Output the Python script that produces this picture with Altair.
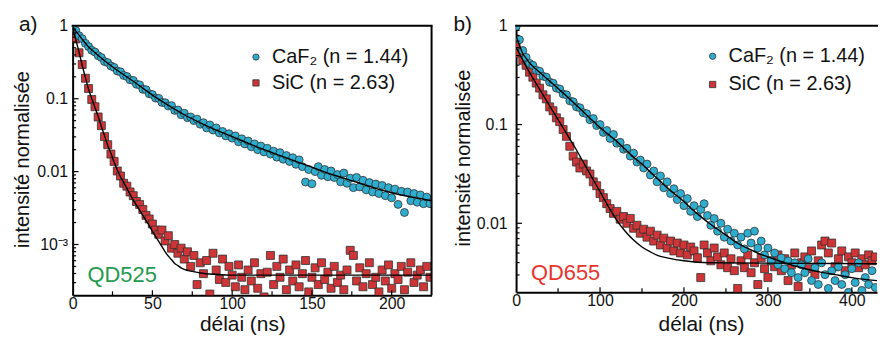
import altair as alt
import pandas as pd

FONT = "Liberation Sans"

SERIES = ["CaF₂ (n = 1.44)", "SiC (n = 2.63)"]
COLORS = ["#2eadcf", "#cf3436"]
SHAPES = ["circle", "square"]
TAGS = ["a)", "b)"]
QD_NAMES = ["QD525", "QD655"]
QD_COLORS = ["#1f9a4f", "#e8342e"]
X_TITLE = "délai (ns)"
Y_TITLE = "intensité normalisée"

# ---------------- panel a (QD525) ----------------
T_A = list(range(0, 226, 2))
CAF2_A = [
    0.98, 0.863, 0.733, 0.668, 0.575, 0.519, 0.462, 0.437, 0.389, 0.367,
    0.324, 0.313, 0.282, 0.269, 0.240, 0.234, 0.209, 0.202, 0.182, 0.178,
    0.158, 0.155, 0.135, 0.133, 0.117, 0.114, 0.102, 0.101, 0.0891, 0.0881,
    0.0794, 0.0804, 0.0692, 0.0700, 0.0603, 0.0631, 0.0550, 0.0562, 0.0501, 0.0525,
    0.0447, 0.0468, 0.0398, 0.0437, 0.0372, 0.0398, 0.0339, 0.0355, 0.0309, 0.0331,
    0.0288, 0.0309, 0.0257, 0.0282, 0.0240, 0.0263, 0.0219, 0.0240, 0.0200, 0.0224,
    0.0186, 0.0209, 0.0174, 0.0191, 0.0158, 0.0182, 0.0148, 0.0166, 0.0138, 0.0155,
    0.0126, 0.0145, 0.0117, 0.0072, 0.0107, 0.0068, 0.0100, 0.0117, 0.00891, 0.0107,
    0.00851, 0.0102, 0.00830, 0.00912, 0.00724, 0.00955, 0.00692, 0.00813, 0.00603, 0.00832,
    0.00617, 0.00759, 0.00562, 0.00708, 0.00525, 0.00676, 0.00501, 0.00646, 0.00468, 0.00603,
    0.00437, 0.00575, 0.00355, 0.00537, 0.00275, 0.00525, 0.00398, 0.00501, 0.00380, 0.00479,
    0.00363, 0.00447, 0.00363,
]
SIC_A = [
    0.891, 0.661, 0.427, 0.295, 0.191, 0.138, 0.0977, 0.0776, 0.0562, 0.0427,
    0.0302, 0.0234, 0.0174, 0.0138, 0.0102, 0.00871, 0.00692, 0.00631, 0.00525, 0.00468,
    0.00389, 0.00355, 0.00302, 0.00251, 0.00224, 0.00191, 0.00158, 0.00138, 0.00158, 0.00112,
    0.00132, 0.000891, 0.00100, 0.000759, 0.000891, 0.000631, 0.000794, 0.000501, 0.000708, 0.000282,
    0.000562, 0.000398, 0.000603, 0.000209, 0.000759, 0.000447, 0.000331, 0.000631, 0.000302, 0.000501,
    0.00038, 0.000263, 0.000525, 0.000355, 0.00024, 0.000447, 0.000316, 0.000562, 0.000251, 0.000398,
    0.000191, 0.000417, 0.000708, 0.000282, 0.000501, 0.000355, 0.000631, 0.00024, 0.000447, 0.000316,
    0.000525, 0.000263, 0.000398, 0.000603, 0.000224, 0.000355, 0.000479, 0.000282, 0.000562, 0.000331,
    0.000417, 0.000251, 0.000501, 0.000302, 0.00038, 0.00024, 0.000447, 0.000832, 0.000708, 0.000316,
    0.000479, 0.000263, 0.000398, 0.000562, 0.000282, 0.000355, 0.000224, 0.000447, 0.000316, 0.000525,
    0.000251, 0.000398, 0.000331, 0.000501, 0.00024, 0.000417, 0.000562, 0.000302, 0.00038, 0.000447,
    0.000263, 0.000501, 0.000355,
]
FIT_T_A_CAF2 = [0, 5, 10, 15, 20, 30, 40, 50, 60, 70, 80, 90, 100, 110, 120, 130,
                140, 150, 160, 170, 180, 190, 200, 210, 220, 225]
FIT_A_CAF2 = [0.955, 0.700, 0.513, 0.412, 0.331, 0.229, 0.162, 0.112, 0.0813, 0.0603,
              0.0468, 0.0372, 0.0302, 0.0245, 0.020, 0.0166, 0.0138, 0.0115, 0.00955,
              0.00813, 0.00692, 0.00589, 0.00513, 0.00457, 0.00417, 0.00398]
FIT_T_A_SIC = [0, 2, 4, 6, 8, 10, 12, 14, 16, 18, 20, 22, 24, 26, 28, 30, 32, 34, 36,
               38, 40, 42, 44, 46, 48, 50, 52, 54, 56, 58, 60, 62, 64, 66, 68, 70,
               75, 80, 90, 100, 225]
FIT_A_SIC = [0.933, 0.646, 0.437, 0.288, 0.195, 0.135, 0.100, 0.0759, 0.0575, 0.0417,
             0.0309, 0.0229, 0.0178, 0.0135, 0.0105, 0.00851, 0.00708, 0.00589, 0.0049,
             0.00407, 0.00347, 0.00295, 0.00251, 0.00214, 0.00182, 0.00151, 0.00129,
             0.0011, 0.000933, 0.000794, 0.000692, 0.000617, 0.00055, 0.000513, 0.000479,
             0.000457, 0.000427, 0.000407, 0.000389, 0.00038, 0.00038]

# ---------------- panel b (QD655) ----------------
T_B = list(range(0, 429, 4))
CAF2_B = [
    0.977, 0.724, 0.562, 0.479, 0.417, 0.398, 0.355, 0.347, 0.309, 0.302,
    0.269, 0.263, 0.234, 0.229, 0.204, 0.200, 0.174, 0.170, 0.151, 0.148,
    0.132, 0.129, 0.112, 0.115, 0.0977, 0.100, 0.0832, 0.0871, 0.0724, 0.0794,
    0.0646, 0.0661, 0.0562, 0.0575, 0.0479, 0.0513, 0.0417, 0.0437, 0.0363, 0.0398,
    0.0309, 0.0339, 0.0263, 0.0302, 0.0229, 0.0263, 0.020, 0.0224, 0.0174, 0.020,
    0.0151, 0.0178, 0.0132, 0.0151, 0.0117, 0.0138, 0.0158, 0.0120, 0.00955, 0.0112,
    0.00832, 0.010, 0.00724, 0.00871, 0.00661, 0.00794, 0.00603, 0.00724, 0.0055, 0.00794,
    0.00631, 0.00832, 0.00562, 0.00661, 0.00479, 0.00562, 0.00417, 0.00501, 0.0038, 0.00447,
    0.00347, 0.00417, 0.00316, 0.00398, 0.00282, 0.0038, 0.00316, 0.00437, 0.00263, 0.00355,
    0.0024, 0.00398, 0.00302, 0.00219, 0.00331, 0.00263, 0.00363, 0.0024, 0.00302, 0.002,
    0.00347, 0.00251, 0.00398, 0.00209, 0.00282, 0.0024, 0.00331, 0.00224,
]
SIC_B = [
    0.631, 0.525, 0.447, 0.398, 0.339, 0.302, 0.263, 0.234, 0.200, 0.182,
    0.151, 0.138, 0.117, 0.107, 0.0891, 0.0759, 0.0603, 0.0479, 0.0417, 0.0363,
    0.0398, 0.0339, 0.0316, 0.0263, 0.024, 0.020, 0.0182, 0.0158, 0.0141, 0.0126,
    0.0132, 0.011, 0.0117, 0.010, 0.0112, 0.00891, 0.00955, 0.00794, 0.00871, 0.00724,
    0.00832, 0.00661, 0.00759, 0.00603, 0.00708, 0.00562, 0.00661, 0.00525, 0.00631, 0.00501,
    0.00603, 0.00479, 0.00575, 0.00525, 0.00447, 0.00282, 0.00603, 0.00501, 0.00417, 0.00562,
    0.00457, 0.0038, 0.00501, 0.00355, 0.00437, 0.00331, 0.00219, 0.00417, 0.00355, 0.00479,
    0.00316, 0.00398, 0.0024, 0.00447, 0.00347, 0.00282, 0.00417, 0.00363, 0.00479, 0.00331,
    0.00437, 0.00263, 0.0038, 0.00501, 0.00229, 0.00398, 0.00457, 0.00347, 0.00525, 0.00302,
    0.00417, 0.00603, 0.00661, 0.00501, 0.00631, 0.00363, 0.00437, 0.00525, 0.00331, 0.00457,
    0.00398, 0.00501, 0.00355, 0.00437, 0.0038, 0.00479, 0.00417, 0.00457,
]
FIT_T_B_CAF2 = [0, 4, 8, 12, 16, 20, 28, 36, 44, 52, 60, 70, 80, 90, 100, 110, 120, 130,
                140, 150, 160, 170, 180, 190, 200, 210, 220, 230, 240, 250, 260, 270, 280,
                290, 300, 320, 340, 360, 380, 400, 430]
FIT_B_CAF2 = [0.794, 0.631, 0.525, 0.468, 0.422, 0.389, 0.339, 0.295, 0.257, 0.224, 0.195,
              0.162, 0.135, 0.112, 0.0933, 0.0794, 0.0676, 0.0562, 0.0468, 0.0398, 0.0331,
              0.0275, 0.0229, 0.0195, 0.0166, 0.0138, 0.0117, 0.010, 0.00871, 0.00759,
              0.00661, 0.00589, 0.00537, 0.0049, 0.00457, 0.00398, 0.00355, 0.00324,
              0.00302, 0.00282, 0.00263]
FIT_T_B_SIC = [0, 10, 20, 30, 40, 50, 60, 70, 80, 90, 100, 110, 120, 130, 140, 150, 160,
               170, 180, 200, 230, 430]
FIT_B_SIC = [0.603, 0.417, 0.295, 0.214, 0.155, 0.112, 0.0813, 0.0589, 0.0417, 0.0295,
             0.0209, 0.0148, 0.0107, 0.00832, 0.00676, 0.00575, 0.00513, 0.00468, 0.00447,
             0.00417, 0.00398, 0.00389]

X_LABELS_A = [0, 50, 100, 150, 200]
X_MINOR_A = [25, 75, 125, 175]
X_LABELS_B = [0, 100, 200, 300, 400]
X_MINOR_B = [50, 150, 250, 350]
Y_TICKS_A = [1, 0.1, 0.01, 0.001]
Y_TICK_TEXT_A = ["1", "0.1", "0.01", "10⁻³"]
Y_TICKS_B = [1, 0.1, 0.01]
Y_TICK_TEXT_B = ["1", "0.1", "0.01"]


def label_expr(vals, texts):
    expr = "''"
    for v, s in reversed(list(zip(vals, texts))):
        expr = f"abs(datum.value - {v}) < {v / 1000} ? '{s}' : {expr}"
    return expr


def minor_log(ymin):
    out = []
    for e in (-4, -3, -2, -1):
        for m in range(2, 10):
            v = m * 10 ** e
            if v > ymin * 1.05:
                out.append(v)
    return out


def panel(i, t, caf, sic, ftc, fc, fts, fs, x_max, y_min, w, h,
          x_labels, x_minor, y_ticks, y_text, y_lab_pad,
          ytx, yty, xtx, xty, lx, ly, lrow, tag_x, qd_y, right_frame):
    pts = pd.DataFrame({
        "t": t + t,
        "I": caf + sic,
        "serie": [SERIES[0]] * len(t) + [SERIES[1]] * len(t),
    })
    fits = pd.DataFrame({
        "t": ftc + fts,
        "I": fc + fs,
        "serie": [SERIES[0]] * len(ftc) + [SERIES[1]] * len(fts),
    })
    xs = alt.Scale(domain=[0, x_max], nice=False, zero=False)
    ys = alt.Scale(type="log", domain=[y_min, 1], nice=False)

    xaxis = alt.Axis(values=x_labels, title=X_TITLE, ticks=False, grid=False,
                     labelPadding=0, labelFlush=False, labelOverlap=False,
                     labelFontSize=16, labelFont=FONT, labelColor="#111",
                     titleFontSize=21, titleFont=FONT, titleFontWeight="normal",
                     titleColor="#111", titleX=xtx, titleY=xty, titleAlign="center",
                     titleBaseline="alphabetic",
                     domainColor="black", domainWidth=2)
    yaxis = alt.Axis(values=y_ticks, labelExpr=label_expr(y_ticks, y_text),
                     title=Y_TITLE, ticks=False, grid=False, labelPadding=y_lab_pad,
                     labelFlush=False, labelOverlap=False,
                     labelFontSize=16, labelFont=FONT, labelColor="#111",
                     titleFontSize=20, titleFont=FONT, titleFontWeight="normal",
                     titleColor="#111", titleX=ytx, titleY=yty, titleAngle=270,
                     titleAlign="center", titleBaseline="alphabetic",
                     domainColor="black", domainWidth=2)
    legend = alt.Legend(orient="none", legendX=lx, legendY=ly, title=None,
                        labelFontSize=20, labelFont=FONT, labelColor="#111",
                        symbolSize=40, symbolStrokeColor="#333", symbolStrokeWidth=0.8,
                        labelOffset=6, rowPadding=lrow, padding=0)
    color = alt.Color("serie:N", scale=alt.Scale(domain=SERIES, range=COLORS), legend=legend)
    shape = alt.Shape("serie:N", scale=alt.Scale(domain=SERIES, range=SHAPES), legend=legend)

    X = lambda f: alt.X(f, scale=xs, axis=xaxis)
    Y = lambda f: alt.Y(f, scale=ys, axis=yaxis)

    base = alt.Chart(pts)
    layers = []
    for s in (SERIES[1], SERIES[0]):
        layers.append(
            base.transform_filter(alt.datum.serie == s)
            .mark_point(filled=True, size=64, opacity=1, stroke="#333",
                        strokeWidth=0.8, clip=True)
            .encode(x=X("t:Q"), y=Y("I:Q"), color=color, shape=shape)
        )
    layers.append(
        alt.Chart(fits).mark_line(color="black", strokeWidth=1.4,
                                  interpolate="monotone", clip=True)
        .encode(x=X("t:Q"), y=Y("I:Q"), detail="serie:N")
    )

    def ytick(vals, length):
        return alt.Chart(pd.DataFrame({"I": vals})).mark_rule(
            color="black", strokeWidth=1.2).encode(
            y=Y("I:Q"), x=alt.value(0), x2=alt.value(length))

    def xtick(vals, length):
        return alt.Chart(pd.DataFrame({"t": vals})).mark_rule(
            color="black", strokeWidth=1.2).encode(
            x=X("t:Q"), y=alt.value(h), y2=alt.value(h - length))

    layers.append(ytick([v for v in y_ticks if v < 1], 6))
    layers.append(ytick(minor_log(y_min), 3.5))
    layers.append(xtick([v for v in x_labels if v > 0], 5))
    layers.append(xtick(x_minor, 4))

    one = pd.DataFrame({"k": [0]})
    layers.append(alt.Chart(one).mark_rule(color="black", strokeWidth=2).encode(
        x=alt.value(-1), x2=alt.value(w + 1), y=alt.value(0)))
    if right_frame:
        layers.append(alt.Chart(one).mark_rule(color="black", strokeWidth=2).encode(
            x=alt.value(w), y=alt.value(0), y2=alt.value(h)))
    layers.append(alt.Chart(one).mark_text(
        text=QD_NAMES[i], fontSize=22, font=FONT, color=QD_COLORS[i],
        align="left", baseline="alphabetic").encode(x=alt.value(15), y=alt.value(qd_y)))
    layers.append(alt.Chart(one).mark_text(
        text=TAGS[i], fontSize=21, font=FONT, color="#111",
        align="left", baseline="alphabetic").encode(x=alt.value(tag_x), y=alt.value(5)))

    return alt.layer(*layers).properties(width=w, height=h)


pa = panel(0, T_A, CAF2_A, SIC_A, FIT_T_A_CAF2, FIT_A_CAF2, FIT_T_A_SIC, FIT_A_SIC,
           225, 2.01e-4, 361, 271, X_LABELS_A, X_MINOR_A, Y_TICKS_A, Y_TICK_TEXT_A, 5,
           -44.5, 134, 170.7, 35, 174.4, 21.4, 6, -54, 258, True)
pb = panel(1, T_B, CAF2_B, SIC_B, FIT_T_B_CAF2, FIT_B_CAF2, FIT_T_B_SIC, FIT_B_SIC,
           430, 0.002, 363, 268, X_LABELS_B, X_MINOR_B, Y_TICKS_B, Y_TICK_TEXT_B, 9,
           -47, 132.5, 186, 38, 187.7, 20.6, 8.4, -63, 256, False)

chart = (
    alt.hconcat(pa, pb, spacing=85, bounds="flush")
    .resolve_scale(x="independent", y="independent", color="independent", shape="independent")
    .resolve_legend(color="independent", shape="independent")
    .properties(padding={"left": 3, "top": 4, "right": 0, "bottom": 0})
    .configure_view(stroke="transparent")
)

chart.save("out.html", embed_options={"renderer": "svg", "actions": False})
